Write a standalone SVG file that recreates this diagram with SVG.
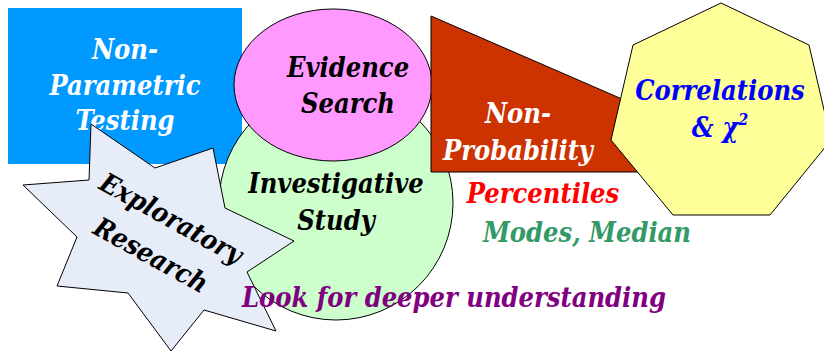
<svg xmlns="http://www.w3.org/2000/svg" width="824" height="353" viewBox="0 0 824 353">
<style>
.t{font-family:"DejaVu Serif Condensed","DejaVu Serif","Liberation Serif",serif;font-stretch:condensed;font-weight:bold;font-style:italic;text-anchor:middle;font-size:27px}
.s{stroke:#000;stroke-width:1}
</style>
<rect width="824" height="353" fill="#fff"/>
<g id="non-parametric">
<rect x="8" y="8" width="234" height="156" fill="#0099FF"/>
<text class="t" fill="#fff"><tspan x="125" y="59">Non-</tspan><tspan x="125" y="95">Parametric</tspan><tspan x="125" y="130">Testing</tspan></text>
</g>
<g id="investigative">
<circle class="s" cx="336" cy="203" r="117" fill="#CCFFCC"/>
<text class="t" fill="#000"><tspan x="336" y="193">Investigative</tspan><tspan x="336" y="230">Study</tspan></text>
</g>
<g id="evidence">
<ellipse class="s" cx="333" cy="85" rx="99" ry="76" fill="#FF99FF"/>
<text class="t" fill="#000"><tspan x="348" y="77">Evidence</tspan><tspan x="348" y="113">Search</tspan></text>
</g>
<g id="non-probability">
<polygon class="s" points="431,16 431,172 790,172" fill="#CC3300"/>
<text class="t" fill="#fff"><tspan x="518" y="123">Non-</tspan><tspan x="518" y="160">Probability</tspan></text>
</g>
<g id="correlations">
<polygon class="s" points="721,3 809,45 831,140 770,215 673,215 611,140 633,45" fill="#FFFF99"/>
<text class="t" fill="#0000FF"><tspan x="720" y="100">Correlations</tspan><tspan x="720" y="137">&amp; χ<tspan font-size="16" dy="-12">2</tspan></tspan></text>
</g>
<g id="exploratory">
<polygon class="s" points="91,124 155,168 213,148 225,208 294,241 247,272 276,331 204,310 171,351 128,293 57,286 77,237 23,185 89,180" fill="#E6ECF8"/>
<text class="t" fill="#000" transform="translate(161,237) rotate(29)"><tspan x="0" y="-12">Exploratory</tspan><tspan x="0" y="30">Research</tspan></text>
</g>
<g id="labels">
<text class="t" fill="#FF0000" x="543" y="203">Percentiles</text>
<text class="t" fill="#339966" x="587" y="242">Modes, Median</text>
<text class="t" fill="#800080" x="454" y="307">Look for deeper understanding</text>
</g>
<g id="connectors"/>
</svg>
